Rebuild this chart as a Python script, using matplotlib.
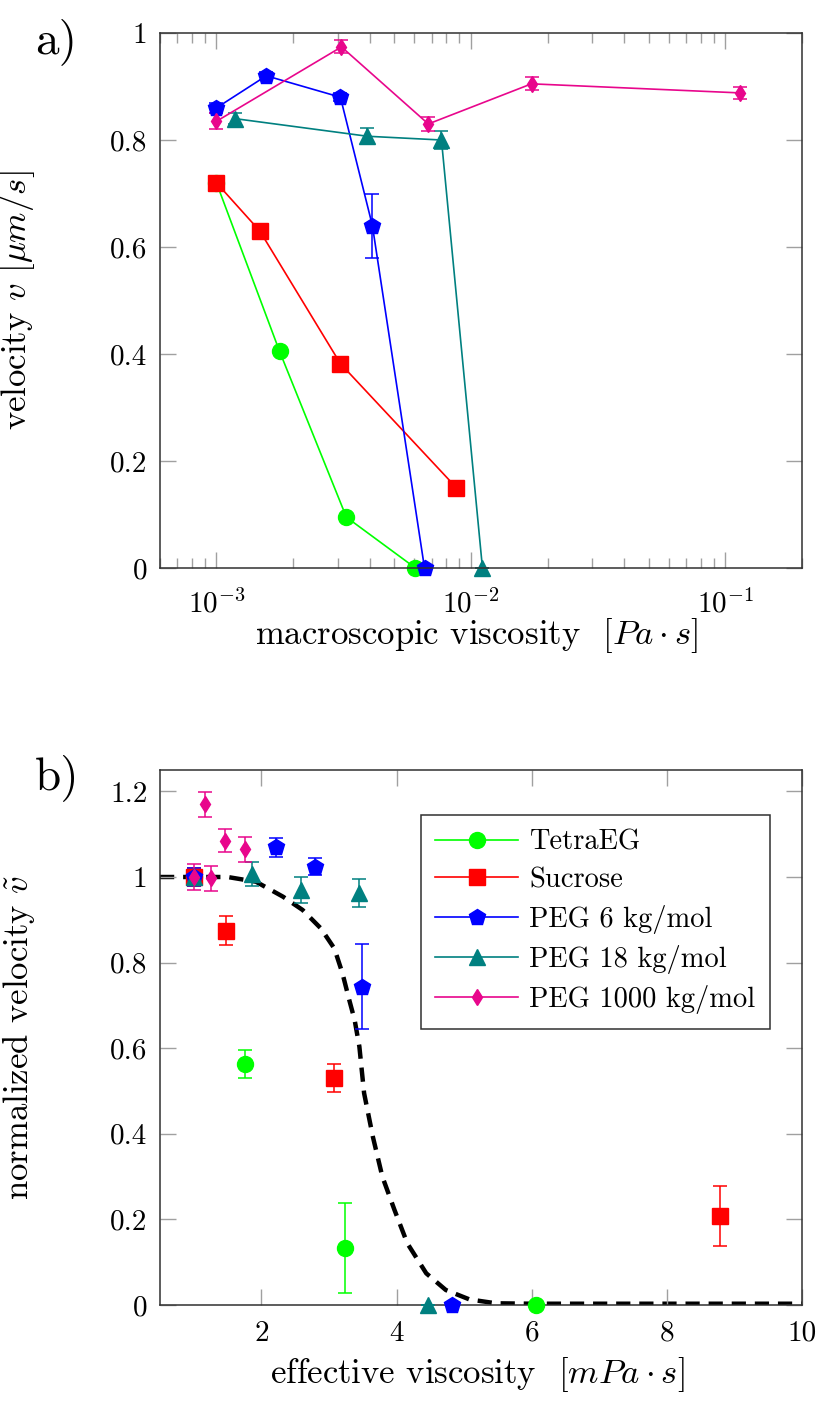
import matplotlib
matplotlib.use("Agg")
import matplotlib.pyplot as plt
from matplotlib.lines import Line2D
from matplotlib.ticker import FixedLocator, FuncFormatter, LogLocator, NullFormatter

plt.rcParams['font.family'] = 'serif'
plt.rcParams['font.serif'] = ['cmr10', 'DejaVu Serif']
plt.rcParams['mathtext.fontset'] = 'cm'
plt.rcParams['axes.formatter.use_mathtext'] = True
plt.rcParams['axes.unicode_minus'] = False

# series names, colours and markers
names = ["TetraEG", "Sucrose", "PEG 6 kg/mol", "PEG 18 kg/mol", "PEG 1000 kg/mol"]
colors = ["#00ff00", "#ff0000", "#0000ff", "#008080", "#e8068c"]
markers = ["o", "s", "p", "^", "d"]

# a) velocity vs macroscopic viscosity [Pa s]
tetra_eta = [1.0e-3, 1.77e-3, 3.24e-3, 6.05e-3]
tetra_v = [0.72, 0.405, 0.095, 0.0]
tetra_err = [0.0, 0.0, 0.0, 0.0]

sucrose_eta = [1.0e-3, 1.48e-3, 3.07e-3, 8.77e-3]
sucrose_v = [0.72, 0.63, 0.382, 0.15]
sucrose_err = [0.0, 0.0, 0.0, 0.0]

peg6_eta = [1.0e-3, 1.57e-3, 3.07e-3, 4.1e-3, 6.57e-3]
peg6_v = [0.86, 0.92, 0.88, 0.64, 0.0]
peg6_err = [0.01, 0.008, 0.008, 0.06, 0.0]

peg18_eta = [1.18e-3, 3.92e-3, 7.66e-3, 1.11e-2]
peg18_v = [0.84, 0.807, 0.80, 0.0]
peg18_err = [0.01, 0.015, 0.016, 0.0]

peg1000_eta = [1.0e-3, 3.1e-3, 6.8e-3, 1.73e-2, 0.1146]
peg1000_v = [0.835, 0.974, 0.83, 0.905, 0.888]
peg1000_err = [0.015, 0.012, 0.013, 0.012, 0.012]

# b) normalized velocity vs effective viscosity [mPa s]
tetra_eff = [1.0, 1.76, 3.24, 6.06]
tetra_nv = [1.0, 0.563, 0.133, 0.0]
tetra_nerr = [0.0, 0.032, 0.106, 0.0]

sucrose_eff = [1.0, 1.47, 3.07, 8.79]
sucrose_nv = [1.0, 0.875, 0.53, 0.208]
sucrose_nerr = [0.02, 0.033, 0.033, 0.069]

peg6_eff = [1.0, 2.21, 2.79, 3.49, 4.82]
peg6_nv = [1.0, 1.069, 1.024, 0.744, 0.0]
peg6_nerr = [0.02, 0.022, 0.02, 0.10, 0.0]

peg18_eff = [1.0, 1.86, 2.59, 3.44, 4.46]
peg18_nv = [1.0, 1.006, 0.97, 0.962, 0.0]
peg18_nerr = [0.01, 0.028, 0.03, 0.033, 0.0]

peg1000_eff = [1.0, 1.26, 1.17, 1.46, 1.76]
peg1000_nv = [1.0, 0.997, 1.17, 1.085, 1.065]
peg1000_nerr = [0.03, 0.029, 0.029, 0.027, 0.029]

# dashed model curve
fit_x = [0.5, 1.0, 1.5, 1.92, 2.32, 2.61, 2.88, 3.08, 3.20, 3.30, 3.38, 3.45,
         3.52, 3.65, 3.79, 3.97, 4.16, 4.44, 4.73, 5.08, 5.47, 6.0, 7.0, 8.0,
         9.0, 10.0]
fit_y = [1.0, 1.0, 1.0, 0.989, 0.954, 0.923, 0.880, 0.833, 0.775, 0.713, 0.666,
         0.604, 0.495, 0.393, 0.30, 0.222, 0.144, 0.074, 0.035, 0.013, 0.004,
         0.003, 0.003, 0.003, 0.003, 0.003]

sizes = [11.5, 12, 12, 11, 8.5]

panel_a = [(tetra_eta, tetra_v, tetra_err), (sucrose_eta, sucrose_v, sucrose_err),
           (peg6_eta, peg6_v, peg6_err), (peg18_eta, peg18_v, peg18_err),
           (peg1000_eta, peg1000_v, peg1000_err)]
panel_b = [(tetra_eff, tetra_nv, tetra_nerr), (sucrose_eff, sucrose_nv, sucrose_nerr),
           (peg6_eff, peg6_nv, peg6_nerr), (peg18_eff, peg18_nv, peg18_nerr),
           (peg1000_eff, peg1000_nv, peg1000_nerr)]

tick_fmt = FuncFormatter(lambda v, p: f"{v:g}")


def style_axes(ax, xpad):
    ax.tick_params(which='both', direction='in', top=True, right=True,
                   color='#a0a0a0', width=1.0, labelsize=21)
    ax.tick_params(axis='y', pad=9)
    ax.tick_params(axis='x', pad=xpad)
    ax.tick_params(which='major', length=11.5)
    ax.tick_params(which='minor', length=7)
    for s in ax.spines.values():
        s.set_color('#303030')
        s.set_linewidth(1.1)


fig = plt.figure(figsize=(8.2, 14.08), dpi=100)
ax1 = fig.add_axes([160 / 820, 1 - 568 / 1408, 642 / 820, 535 / 1408])
ax2 = fig.add_axes([160 / 820, 1 - 1305 / 1408, 642 / 820, 535 / 1408])

for (x, y, e), c, m, ms in zip(panel_a, colors, markers, sizes):
    ax1.errorbar(x, y, yerr=e, color=c, marker=m, markersize=ms, lw=1.2,
                 elinewidth=1.1, capsize=5, capthick=1.1, clip_on=False)

ax1.set_xscale('log')
ax1.set_xlim(6e-4, 0.2)
ax1.set_ylim(0, 1)
ax1.yaxis.set_major_locator(FixedLocator([0, 0.2, 0.4, 0.6, 0.8, 1.0]))
ax1.yaxis.set_major_formatter(tick_fmt)
ax1.xaxis.set_major_locator(LogLocator(base=10, numticks=10))
ax1.xaxis.set_minor_locator(LogLocator(base=10, subs=range(2, 10), numticks=20))
ax1.xaxis.set_minor_formatter(NullFormatter())
style_axes(ax1, 15)
ax1.set_xlabel(r"macroscopic viscosity  $[Pa \cdot s]$", fontsize=25)
ax1.set_ylabel(r"velocity $v$ $[\mu m/s]$", fontsize=25)
ax1.xaxis.set_label_coords(0.494, -0.09)
ax1.yaxis.set_label_coords(-0.192, 0.5)

ax2.plot(fit_x, fit_y, color='black', lw=3.2, linestyle=(0, (3.2, 2)), zorder=1)
for (x, y, e), c, m, ms in zip(panel_b, colors, markers, sizes):
    ax2.errorbar(x, y, yerr=e, color=c, marker=m, markersize=ms, linestyle='none',
                 elinewidth=1.1, capsize=5, capthick=1.1, clip_on=False, zorder=3)

ax2.set_xlim(0.5, 10)
ax2.set_ylim(0, 1.25)
ax2.xaxis.set_major_locator(FixedLocator([2, 4, 6, 8, 10]))
ax2.yaxis.set_major_locator(FixedLocator([0, 0.2, 0.4, 0.6, 0.8, 1.0, 1.2]))
ax2.xaxis.set_major_formatter(tick_fmt)
ax2.yaxis.set_major_formatter(tick_fmt)
style_axes(ax2, 11)
ax2.set_xlabel(r"effective viscosity  $[mPa \cdot s]$", fontsize=25)
ax2.set_ylabel(r"normalized velocity $\tilde{v}$", fontsize=25)
ax2.xaxis.set_label_coords(0.494, -0.093)
ax2.yaxis.set_label_coords(-0.192, 0.5)

handles = [Line2D([], [], color=c, marker=m, markersize=ms, lw=1.2)
           for c, m, ms in zip(colors, markers, sizes)]
leg = ax2.legend(handles, names, loc='upper right', bbox_to_anchor=(0.95, 0.916),
                 borderaxespad=0, fontsize=20.5, fancybox=False, framealpha=1,
                 edgecolor='#303030', handlelength=2.9, handletextpad=0.4,
                 labelspacing=0.4, borderpad=0.5)
leg.get_frame().set_linewidth(1.1)

fig.text(35 / 820, 1 - 42 / 1408, "a)", fontsize=34, va='center', ha='left')
fig.text(35 / 820, 1 - 778 / 1408, "b)", fontsize=34, va='center', ha='left')

fig.savefig("out.png", dpi=100)
